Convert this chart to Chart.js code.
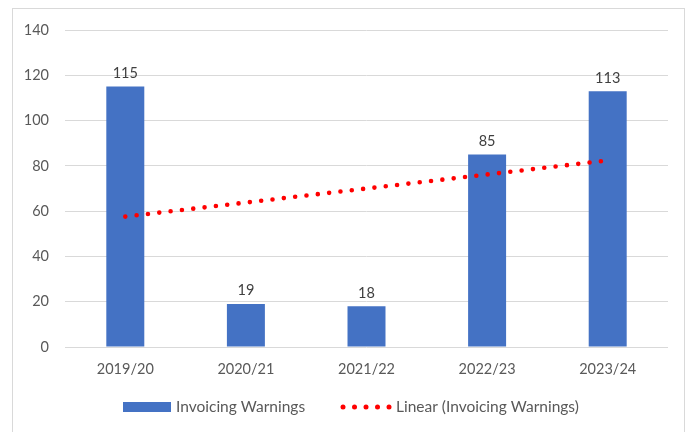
<!DOCTYPE html>
<html>
<head>
<meta charset="utf-8">
<script src="https://cdn.jsdelivr.net/npm/chart.js@4/dist/chart.umd.min.js"></script>
<style>
  html, body { margin: 0; padding: 0; background: #fff; }
  #wrap { position: absolute; left: 0; top: 0; width: 693px; height: 432px; }
  #frame { position: absolute; left: 12px; top: 8px; width: 673px; height: 430px; border: 1px solid #d9d9d9; box-sizing: border-box; pointer-events: none; }
</style>
</head>
<body>
<div id="wrap">
  <canvas id="c" width="693" height="432"></canvas>
  <div id="frame"></div>
</div>
<script>
const categories = ["2019/20", "2020/21", "2021/22", "2022/23", "2023/24"];
const invoicingWarnings = [115, 19, 18, 85, 113];
const linearTrend = [57.6, 63.8, 70.0, 76.2, 82.4];
const yTicks = [0, 20, 40, 60, 80, 100, 120, 140];
const legendLabels = ["Invoicing Warnings", "Linear (Invoicing Warnings)"];

const FONT = "Lato";
const TEXT = "#595959";

const valueLabels = {
  id: "valueLabels",
  afterDatasetsDraw(chart) {
    const ctx = chart.ctx;
    const meta = chart.getDatasetMeta(0);
    ctx.save();
    ctx.font = "14.5px " + FONT;
    ctx.fillStyle = "#404040";
    ctx.textAlign = "center";
    ctx.textBaseline = "bottom";
    meta.data.forEach((bar, i) => {
      ctx.fillText(String(invoicingWarnings[i]), bar.x, bar.y - 6);
    });
    ctx.restore();
  }
};

const customLegend = {
  id: "customLegend",
  afterDraw(chart) {
    const ctx = chart.ctx;
    const cy = 407;
    ctx.save();
    ctx.fillStyle = "#4472C4";
    ctx.fillRect(123, cy - 5, 48, 10);
    ctx.font = "15.5px " + FONT;
    ctx.fillStyle = TEXT;
    ctx.textBaseline = "middle";
    ctx.textAlign = "left";
    ctx.fillText(legendLabels[0], 176, cy);
    ctx.fillStyle = "#FF0000";
    for (let i = 0; i < 5; i++) {
      ctx.beginPath();
      ctx.arc(343 + i * 11.5, cy, 2.5, 0, Math.PI * 2);
      ctx.fill();
    }
    ctx.fillStyle = TEXT;
    ctx.fillText(legendLabels[1], 396, cy);
    ctx.restore();
  }
};

new Chart(document.getElementById("c"), {
  data: {
    labels: categories,
    datasets: [
      {
        type: "bar",
        label: legendLabels[0],
        data: invoicingWarnings,
        backgroundColor: "#4472C4",
        borderColor: "#4472C4",
        borderWidth: 0,
        categoryPercentage: 1.0,
        barPercentage: 0.315,
        order: 2
      },
      {
        type: "line",
        label: legendLabels[1],
        data: linearTrend,
        borderColor: "#FF0000",
        borderWidth: 4.6,
        borderDash: [0, 11.4],
        borderCapStyle: "round",
        pointRadius: 0,
        fill: false,
        tension: 0,
        order: 1
      }
    ]
  },
  options: {
    responsive: false,
    animation: false,
    devicePixelRatio: 1,
    layout: { padding: { left: 0, right: 25, top: 30, bottom: 0 } },
    scales: {
      x: {
        afterFit(scale) { scale.height = 85; },
        grid: { display: false, drawTicks: false },
        border: { display: false },
        ticks: { color: TEXT, font: { family: FONT, size: 14.5 }, padding: 14, maxRotation: 0 }
      },
      y: {
        min: 0, max: 140,
        afterBuildTicks(scale) { scale.ticks = yTicks.map(v => ({ value: v })); },
        afterFit(scale) { scale.width = 65; },
        grid: { color: "#d9d9d9", lineWidth: 1, drawTicks: false },
        border: { display: false },
        ticks: { color: TEXT, font: { family: FONT, size: 14.5 }, padding: 16 }
      }
    },
    plugins: {
      tooltip: { enabled: false },
      legend: { display: false }
    }
  },
  plugins: [valueLabels, customLegend]
});
</script>
</body>
</html>
